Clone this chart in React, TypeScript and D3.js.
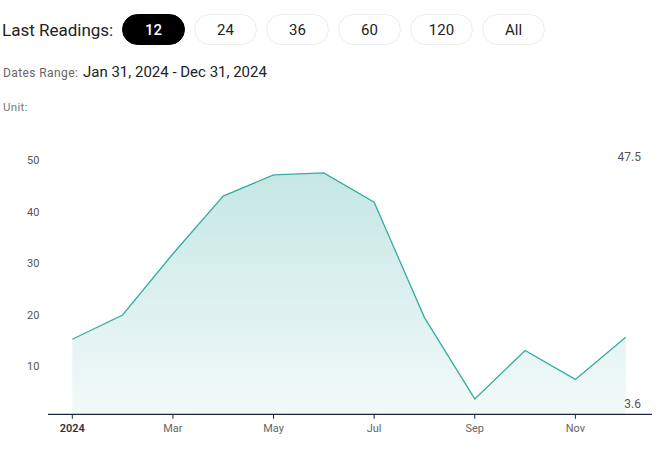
import React from "react";
import * as d3 from "d3";

const months = ["Jan", "Feb", "Mar", "Apr", "May", "Jun", "Jul", "Aug", "Sep", "Oct", "Nov", "Dec"];
const values = [15.2, 19.9, 31.8, 43.0, 47.1, 47.5, 41.8, 19.4, 3.6, 13.0, 7.4, 15.6];
const yTicks = [10, 20, 30, 40, 50];
const xTickIdx = [0, 2, 4, 6, 8, 10];
const xTickLabels = ["2024", "Mar", "May", "Jul", "Sep", "Nov"];
const pills = ["12", "24", "36", "60", "120", "All"];
const maxLabel = "47.5";
const minLabel = "3.6";

export default function App() {
  const x = d3.scaleLinear().domain([0, months.length - 1]).range([72.3, 625.7]);
  const y = d3.scaleLinear().domain([10, 50]).range([366, 160]);
  const baseY = 414.3;

  const area = d3
    .area<number>()
    .x((_, i) => x(i))
    .y0(baseY)
    .y1((d) => y(d));
  const line = d3
    .line<number>()
    .x((_, i) => x(i))
    .y((d) => y(d));

  const font = "Roboto, 'Noto Sans', sans-serif";

  return (
    <svg
      width={657}
      height={458}
      style={{ position: "absolute", left: 0, top: 0, fontFamily: font }}
    >
      <defs>
        <linearGradient id="fillG" gradientUnits="userSpaceOnUse" x1={0} y1={172} x2={0} y2={baseY}>
          <stop offset="0%" stopColor="#26a69a" stopOpacity={0.27} />
          <stop offset="100%" stopColor="#26a69a" stopOpacity={0.06} />
        </linearGradient>
      </defs>
      <rect x={0} y={0} width={657} height={458} fill="#fff" />

      {/* header */}
      <text x={2} y={36} fontSize={17} fill="#222">Last Readings:</text>
      {pills.map((p, i) => {
        const px = 122 + i * 72;
        const active = i === 0;
        return (
          <g key={p}>
            <rect
              x={px + 0.5}
              y={14.5}
              width={62}
              height={30}
              rx={15}
              fill={active ? "#000" : "#fff"}
              stroke={active ? "#000" : "#ececec"}
            />
            <text
              x={px + 31.5}
              y={35}
              textAnchor="middle"
              fontSize={15}
              fill={active ? "#fff" : "#222"}
              fontWeight={active ? 500 : 400}
            >
              {p}
            </text>
          </g>
        );
      })}
      <text x={3} y={76.5} fontSize={12} letterSpacing={0.4} fill="#666">Dates Range:</text>
      <text x={83} y={77} fontSize={15} fill="#222">Jan 31, 2024 - Dec 31, 2024</text>
      <text x={3} y={110.5} fontSize={11.5} letterSpacing={0.3} fill="#777">Unit:</text>

      {/* area & line */}
      <path d={area(values) || ""} fill="url(#fillG)" />
      <path d={line(values) || ""} fill="none" stroke="#35ad9f" strokeWidth={1.3} />

      {/* y tick labels */}
      {yTicks.map((t) => (
        <text key={t} x={27} y={y(t) + 4} fontSize={11} fill="#555">
          {t}
        </text>
      ))}

      {/* x axis */}
      <line x1={48} x2={652} y1={baseY} y2={baseY} stroke="#1f2640" strokeWidth={1.2} />
      {xTickIdx.map((idx, k) => (
        <g key={idx}>
          <line x1={x(idx)} x2={x(idx)} y1={baseY} y2={baseY + 4.5} stroke="#1f2640" strokeWidth={1} />
          <text
            x={x(idx)}
            y={432}
            textAnchor="middle"
            fontSize={11}
            fill={k === 0 ? "#333" : "#666"}
            fontWeight={k === 0 ? 600 : 400}
          >
            {xTickLabels[k]}
          </text>
        </g>
      ))}

      {/* max / min labels */}
      <text x={641} y={161} textAnchor="end" fontSize={12} fill="#555">{maxLabel}</text>
      <text x={641} y={407.5} textAnchor="end" fontSize={12} fill="#555">{minLabel}</text>
    </svg>
  );
}
